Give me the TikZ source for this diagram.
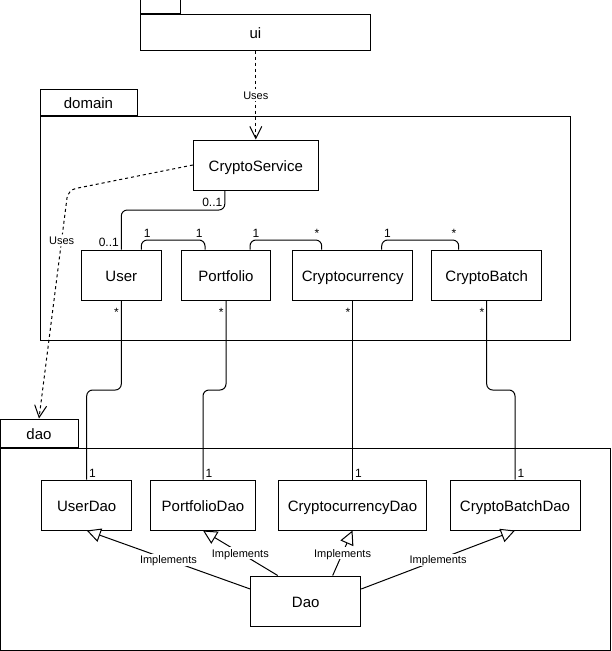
\documentclass[tikz,border=0pt]{standalone}
\usepackage{fontspec}
\setmainfont{Liberation Sans}
\usetikzlibrary{arrows.meta}
\tikzset{
  cls/.style={draw, line width=1pt, minimum width=#1, minimum height=50pt, inner sep=0pt, text height=14pt, text depth=1pt, font=\fontsize{15}{18}\selectfont},
  pkg/.style={draw, line width=1pt, inner sep=0pt, text height=14pt, text depth=1pt, font=\fontsize{15}{18}\selectfont},
  pkgtab/.style={draw, line width=1pt, inner sep=0pt, anchor=south west, text height=14pt, text depth=1pt, font=\fontsize{15}{18}\selectfont},
  mult/.style={font=\fontsize{12}{14}\selectfont, inner sep=2pt},
  star/.style={mult, below left, yshift=-5pt},
  assoc/.style={line width=1pt, rounded corners=6pt},
  uses/.style={line width=1pt, dash pattern=on 3pt off 3pt, rounded corners=8pt, -{Straight Barb[length=12pt,width=12pt]}},
  impl/.style={line width=1pt, -{Triangle[open,length=14pt,width=14pt,fill=white]}},
  lbl/.style={fill=white, inner sep=1pt, text height=9pt, text depth=1pt, font=\fontsize{11}{13}\selectfont}
}
\begin{document}
\begin{tikzpicture}[x=1pt,y=-1pt]
\useasboundingbox (0,0) rectangle (611,651);
% packages
\node[pkg, minimum width=230pt, minimum height=36pt] (ui) at (255.4,32) {ui};
\node[pkgtab, minimum width=40pt, minimum height=14pt] (uitab) at (ui.north west) {};
\node[pkg, minimum width=530pt, minimum height=224pt] (domain) at (305,228) {};
\node[pkgtab, minimum width=97pt, minimum height=26pt] (domaintab) at (domain.north west) {domain};
\node[pkg, minimum width=610pt, minimum height=202pt] (dao) at (305,549) {};
\node[pkgtab, minimum width=78pt, minimum height=28pt] (daotab) at (dao.north west) {dao};
% classes
\node[cls=125pt] (CryptoService) at (255.8,165) {CryptoService};
\node[cls=80pt] (User) at (121.3,275) {User};
\node[cls=89pt] (Portfolio) at (226,275) {Portfolio};
\node[cls=120pt] (Cryptocurrency) at (352.7,275) {Cryptocurrency};
\node[cls=110pt] (CryptoBatch) at (486.7,275) {CryptoBatch};
\node[cls=90pt] (UserDao) at (86.7,505) {UserDao};
\node[cls=105pt] (PortfolioDao) at (203,505) {PortfolioDao};
\node[cls=148pt] (CryptocurrencyDao) at (352.5,505) {CryptocurrencyDao};
\node[cls=130pt] (CryptoBatchDao) at (515,505) {CryptoBatchDao};
\node[cls=110pt] (Dao) at (305.7,601) {Dao};
% levels
\coordinate (top) at (0,240);
\coordinate (mid) at (0,210);
\coordinate (low) at (0,390);
\coordinate (bend) at (68,190);
% uses
\draw[uses] (CryptoService.north |- ui.south) -- node[lbl]{Uses} (CryptoService.north);
\draw[uses] (CryptoService.west) -- (bend) -- node[lbl, pos=0.22]{Uses} (daotab.north);
% associations
\coordinate (cs) at ([xshift=-31pt]CryptoService.south);
\draw[assoc] (cs) node[mult, below left, yshift=-5pt]{0..1} -- (cs |- mid) -| (User.north) node[mult, above left]{0..1};
\coordinate (a1) at ([xshift=20pt]User.north);
\coordinate (b1) at ([xshift=-21pt]Portfolio.north);
\draw[assoc] (a1) -- (a1 |- top) node[mult, above right]{1} -- (b1 |- top) node[mult, above left]{1} -- (b1);
\coordinate (a2) at ([xshift=24pt]Portfolio.north);
\coordinate (b2) at ([xshift=-31pt]Cryptocurrency.north);
\draw[assoc] (a2) -- (a2 |- top) node[mult, above right]{1} -- (b2 |- top) node[mult, above left]{*} -- (b2);
\coordinate (a3) at ([xshift=29pt]Cryptocurrency.north);
\coordinate (b3) at ([xshift=-28pt]CryptoBatch.north);
\draw[assoc] (a3) -- (a3 |- top) node[mult, above right]{1} -- (b3 |- top) node[mult, above left]{*} -- (b3);
% domain to dao
\draw[assoc] (User.south) node[star]{*} -- (User.south |- low) -| (UserDao.north) node[mult, above right]{1};
\draw[assoc] (Portfolio.south) node[star]{*} -- (Portfolio.south |- low) -| (PortfolioDao.north) node[mult, above right]{1};
\draw[assoc] (Cryptocurrency.south) node[star]{*} -- (Cryptocurrency.south |- CryptocurrencyDao.north) node[mult, above right]{1};
\draw[assoc] (CryptoBatch.south) node[star]{*} -- (CryptoBatch.south |- low) -| (CryptoBatchDao.north) node[mult, above right]{1};
% implements
\draw[impl] ([yshift=12pt]Dao.west) -- node[lbl]{Implements} (UserDao.south);
\draw[impl] ([xshift=-28pt]Dao.north) -- node[lbl]{Implements} (PortfolioDao.south);
\draw[impl] ([xshift=27pt]Dao.north) -- node[lbl]{Implements} (CryptocurrencyDao.south);
\draw[impl] ([yshift=12pt]Dao.east) -- node[lbl]{Implements} (CryptoBatchDao.south);
\end{tikzpicture}
\end{document}
